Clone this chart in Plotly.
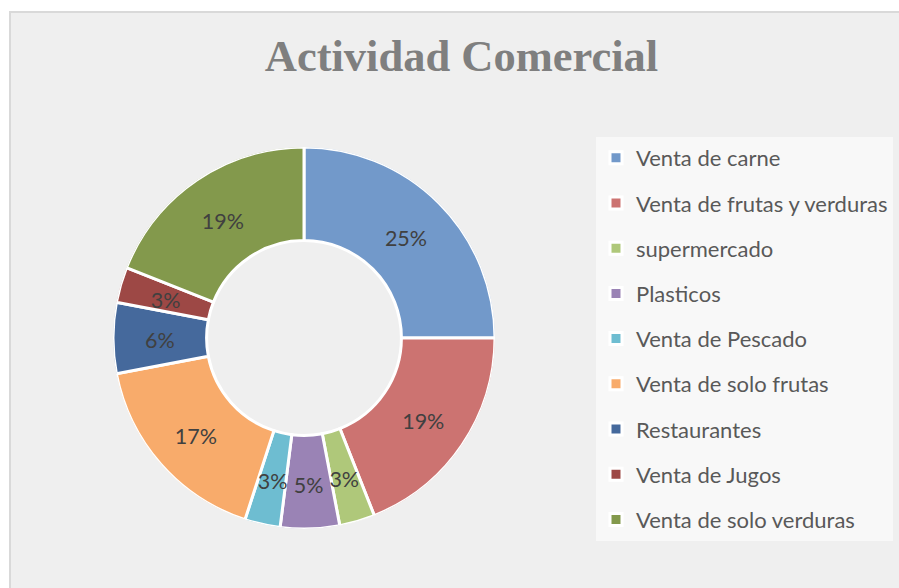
import plotly.graph_objects as go

# ---- data ----
categories = [
    "Venta de carne",
    "Venta de frutas y verduras",
    "supermercado",
    "Plasticos",
    "Venta de Pescado",
    "Venta de solo frutas",
    "Restaurantes",
    "Venta de Jugos",
    "Venta de solo verduras",
]
values = [25, 19, 3, 5, 3, 17, 6, 3, 19]

# ---- style ----
slice_colors = [
    "#7299ca", "#cc7371", "#afc87a", "#9a83b5", "#6ebdd1",
    "#f8ab6b", "#45699c", "#9d4845", "#83994c",
]

W, H = 899, 588
cx, cy, R = 304, 338, 191
HOLE = 0.51
TEXT_DY = 5  # label baseline nudge (px, downward)

total = sum(values)
spans = [360.0 * v / total for v in values]
mids = []
acc = 0.0
for s in spans:
    mids.append(acc + s / 2)
    acc += s
pct_text = [f"{100 * v / total:.0f}%" for v in values]

fig = go.Figure()

for cat, v, span, mid, col in zip(categories, values, spans, mids, slice_colors):
    fig.add_trace(go.Barpolar(
        r=[1 - HOLE], base=[HOLE], theta=[mid], width=[span],
        name=cat, legendgroup=cat,
        marker=dict(color=col, line=dict(color="white", width=3)),
        customdata=[v], hovertemplate=cat + ": %{customdata}%<extra></extra>",
    ))

fig.add_trace(go.Scatterpolar(
    r=[(1 + HOLE) / 2] * len(values), theta=mids, text=pct_text,
    mode="text", showlegend=False, hoverinfo="skip", subplot="polar2",
    textfont=dict(family="Lato", size=21.5, color="#404040"),
))

polar_common = dict(
    bgcolor="rgba(0,0,0,0)",
    bargap=0,
    radialaxis=dict(range=[0, 1], visible=False),
    angularaxis=dict(rotation=90, direction="clockwise", visible=False),
)

fig.update_layout(
    width=W, height=H,
    margin=dict(l=0, r=0, t=0, b=0),
    paper_bgcolor="white",
    polar=dict(
        domain=dict(x=[(cx - R) / W, (cx + R) / W],
                    y=[(H - cy - R) / H, (H - cy + R) / H]),
        **polar_common,
    ),
    polar2=dict(
        domain=dict(x=[(cx - R) / W, (cx + R) / W],
                    y=[(H - cy - R - TEXT_DY) / H, (H - cy + R - TEXT_DY) / H]),
        **polar_common,
    ),
    title=dict(
        text="<b>Actividad Comercial</b>",
        font=dict(family="Liberation Serif", size=44.5, color="#7f7f7f"),
        x=461.5 / W, xanchor="center",
        y=1 - 55 / H, yanchor="middle",
    ),
    legend=dict(
        x=596 / W, xanchor="left",
        y=1 - 137 / H, yanchor="top",
        bgcolor="rgba(255,255,255,0.55)",
        font=dict(family="Lato", size=22, color="#595959"),
        tracegroupgap=13.6,
        itemwidth=30,
    ),
    shapes=[dict(
        type="rect", xref="paper", yref="paper",
        x0=10 / W, x1=1.02, y0=-0.02, y1=1 - 12 / H,
        fillcolor="#efefef", line=dict(color="#d9d9d9", width=2),
        layer="below",
    )],
)

fig.write_html(
    "out.html",
    config={"displayModeBar": False},
    post_script="document.body.style.margin='0px';",
)
